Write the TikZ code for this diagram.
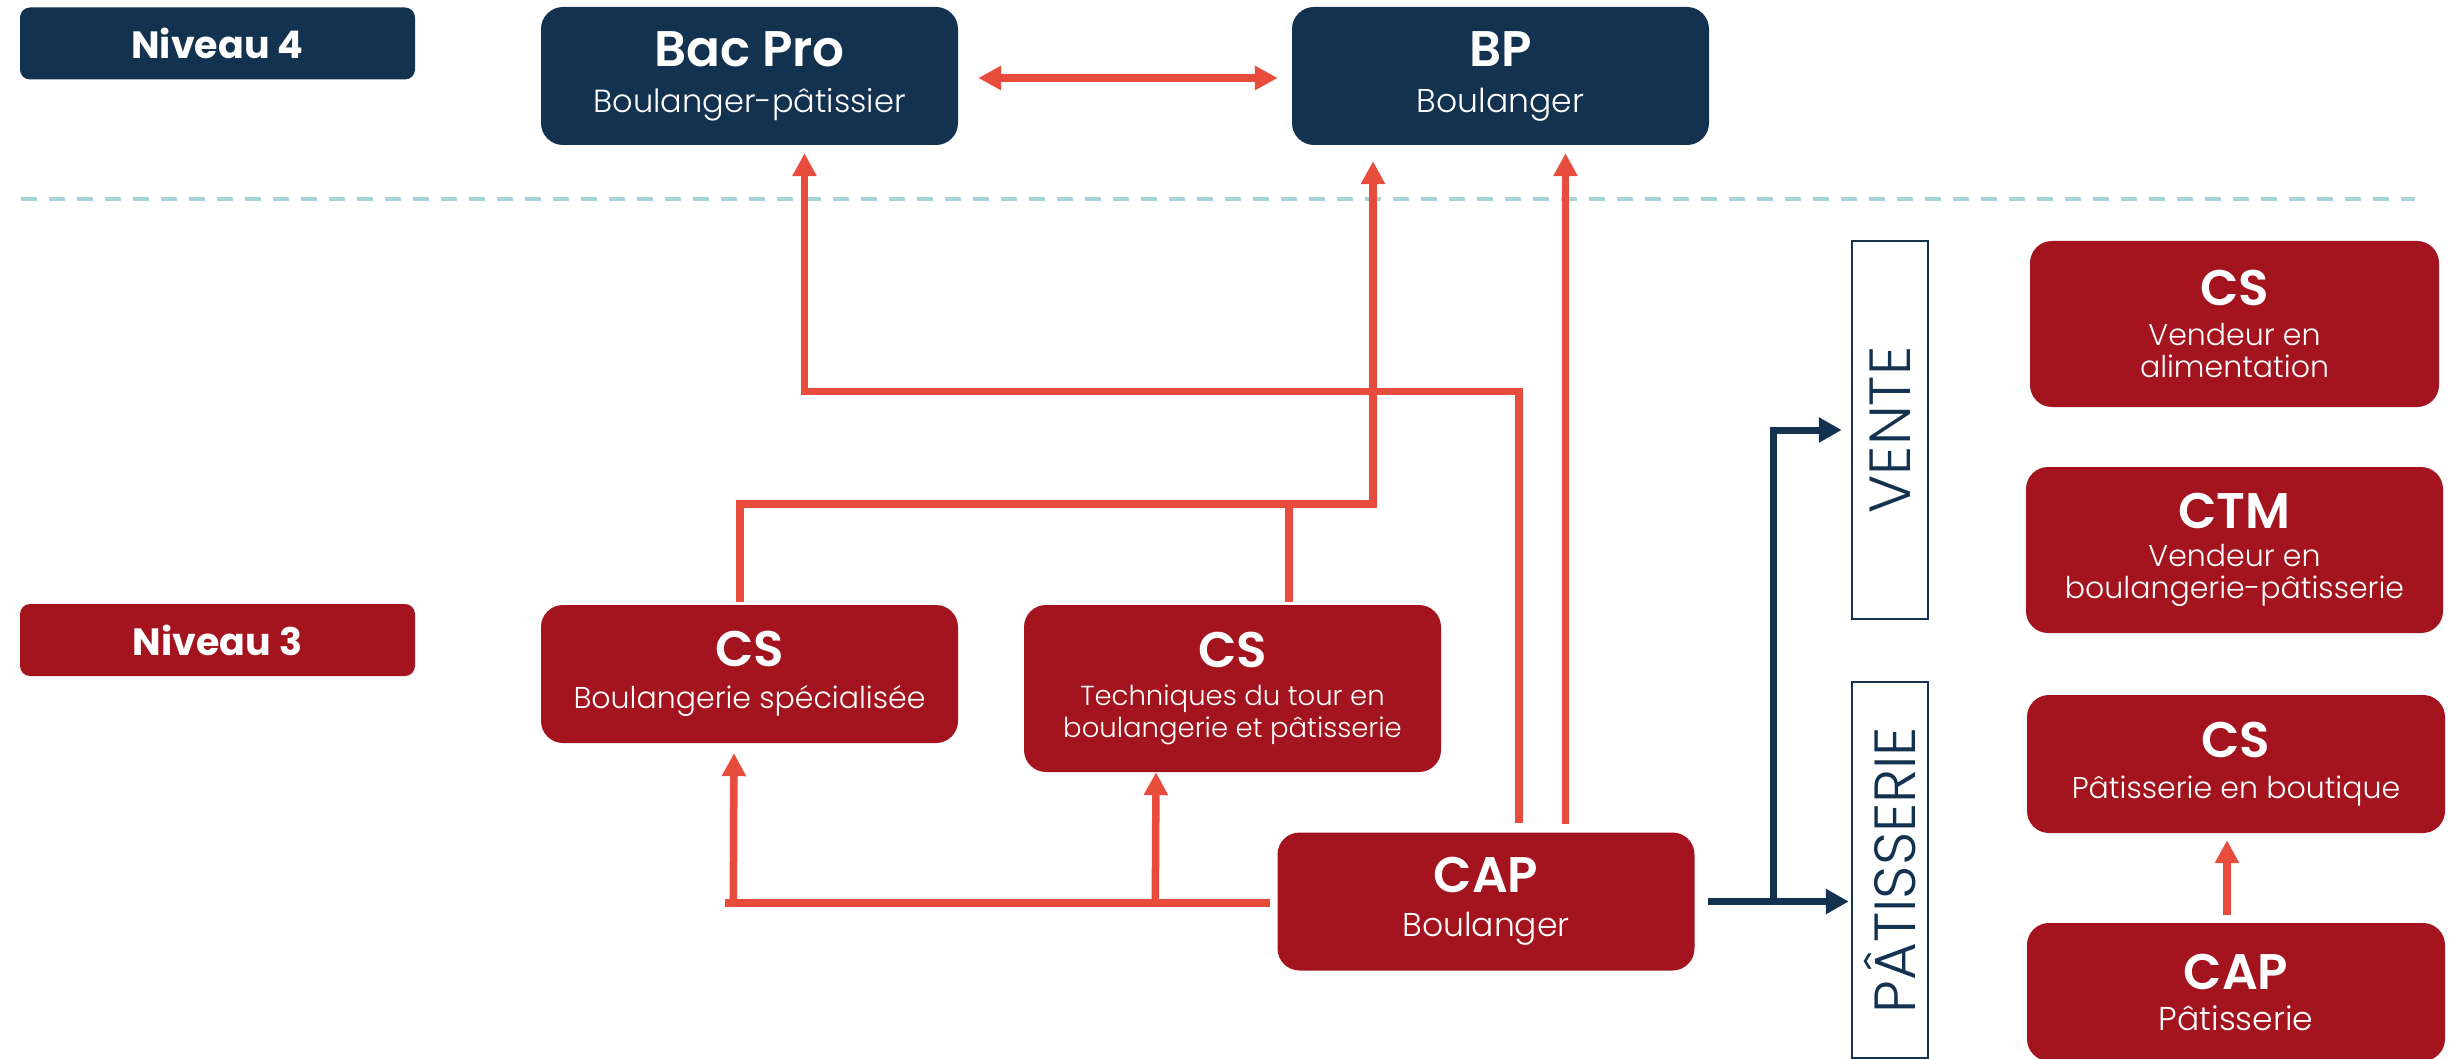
\documentclass[tikz,border=0pt]{standalone}
\usepackage{fontspec}
\setmainfont{Poppins}
\IfFontExistsTF{Poppins Light}{\newfontfamily\lightfam{Poppins Light}}{\newfontfamily\lightfam{Poppins}}
\usetikzlibrary{arrows.meta}
\definecolor{navy}{HTML}{12324F}
\definecolor{boxred}{HTML}{A3141F}
\definecolor{arrred}{HTML}{E84C3D}
\definecolor{dashcol}{HTML}{A8D3D9}
\newcommand\boxtitle{\fontsize{50}{32}\selectfont\bfseries}
\newcommand\boxsub{\lightfam\fontsize{30}{32}\selectfont}
\newcommand\subbig{\lightfam\fontsize{33}{32}\selectfont}
\newcommand\subbac{\lightfam\fontsize{32}{32}\selectfont}
\newcommand\subsmall{\lightfam\fontsize{27.5}{31}\selectfont}
\tikzset{
  card/.style={rounded corners=22pt, inner sep=0pt, text=white, align=center,
    font=\boxsub, minimum width=417pt, minimum height=138pt},
  navycard/.style={card, fill=navy},
  redcard/.style={card, fill=boxred},
  nivbox/.style={rounded corners=10pt, inner sep=0pt, text=white,
    font=\fontsize{38}{40}\selectfont\bfseries, minimum width=395pt, minimum height=72pt},
  sector/.style={draw=navy, line width=2.5pt, fill=white, inner sep=0pt,
    minimum width=76pt, text=navy, font=\lightfam\fontsize{58}{60}\selectfont},
  rline/.style={draw=arrred, line width=7.5pt},
  rarrow/.style={rline, -{Triangle[length=23pt,width=23pt]}},
  barrow/.style={draw=navy, line width=7pt, -{Triangle[length=23pt,width=24pt]}},
}
\begin{document}
\begin{tikzpicture}[x=1pt,y=-1pt]
\useasboundingbox (0,0) rectangle (2453,1059);
\fill[white] (0,0) rectangle (2453,1059);

% divider
\draw[dashcol, line width=4pt, dash pattern=on 16pt off 12pt] (21,199) -- (2415,199);

% level labels
\node[nivbox, fill=navy] (niv4) at (217.5,43.5) {Niveau 4};
\node[nivbox, fill=boxred] (niv3) at (217.5,640) {Niveau 3};

% level 4
\node[navycard] (bacpro) at (749.5,76) {{\boxtitle Bac Pro}\\[14pt]{\subbac Boulanger-pâtissier}};
\node[navycard] (bp) at (1500.5,76) {{\boxtitle BP}\\[14pt]{\subbig Boulanger}};

% level 3
\node[redcard] (csboul) at (749.5,674) {{\boxtitle CS}\\[10pt]Boulangerie spécialisée};
\node[redcard, minimum height=167pt] (cstech) at (1232.5,688.5)
  {{\boxtitle CS}\\[6pt]{\subsmall Techniques du tour en}\\{\subsmall boulangerie et pâtisserie}};
\node[redcard] (capb) at (1486,901.5) {{\boxtitle CAP}\\[12pt]{\subbig Boulanger}};

% sectors
\node[sector, minimum height=378pt] (vente) at (1890,430) {\rotatebox{90}{VENTE}};
\node[sector, minimum height=376pt] (patis) at (1890,870) {\rotatebox{90}{PÂTISSERIE}};

% right column
\node[redcard, minimum width=409pt, minimum height=166pt] (csvend) at (2234.5,324)
  {{\boxtitle CS}\\[8pt]Vendeur en\\alimentation};
\node[redcard, minimum height=166pt] (ctm) at (2234.5,550)
  {{\boxtitle CTM}\\[6pt]Vendeur en\\boulangerie-pâtisserie};
\node[redcard, minimum width=418pt] (cspat) at (2236,764) {{\boxtitle CS}\\[9pt]Pâtisserie en boutique};
\node[redcard, minimum width=418pt] (cappat) at (2236,992) {{\boxtitle CAP}\\[9pt]{\subbig Pâtisserie}};

% connectors
\draw[rline, {Triangle[length=23pt,width=23pt]}-{Triangle[length=23pt,width=23pt]},
  shorten <=20pt, shorten >=14pt] ([yshift=-2pt]bacpro.east) -- ([yshift=-2pt]bp.west);

\draw[rarrow] ([xshift=33pt,yshift=9pt]capb.north) -- ++(0,-432)
  -| ([xshift=55pt,yshift=-8pt]bacpro.south);
\draw[rarrow] ([xshift=79.5pt,yshift=8pt]capb.north) -- ([xshift=65pt,yshift=-8pt]bp.south);

\draw[rarrow] ([xshift=-9.5pt,yshift=3pt]csboul.north) -- ++(0,-98)
  -| ([xshift=-127.5pt,yshift=-16pt]bp.south);
\draw[rline] ([xshift=56.5pt,yshift=3pt]cstech.north) -- ++(0,-98);

\coordinate (capL) at ([xshift=-7pt,yshift=-1.5pt]capb.west);
\draw[rline] (capL) -- ++(-545,0);
\draw[rarrow] ([xshift=-537pt]capL) -- ([xshift=-15.5pt,yshift=-10pt]csboul.south);
\draw[rarrow] ([xshift=-115pt]capL) -- ([xshift=-76.5pt]cstech.south);

\draw[rarrow] ([xshift=-9pt,yshift=8pt]cappat.north) -- ([xshift=-9pt,yshift=-7pt]cspat.south);

\draw[barrow, shorten >=2pt] ([xshift=13pt]capb.east) -- (patis.west |- capb.east);
\draw[barrow, shorten >=9pt] ([xshift=79pt]capb.east) |- (vente.west);
\end{tikzpicture}
\end{document}
